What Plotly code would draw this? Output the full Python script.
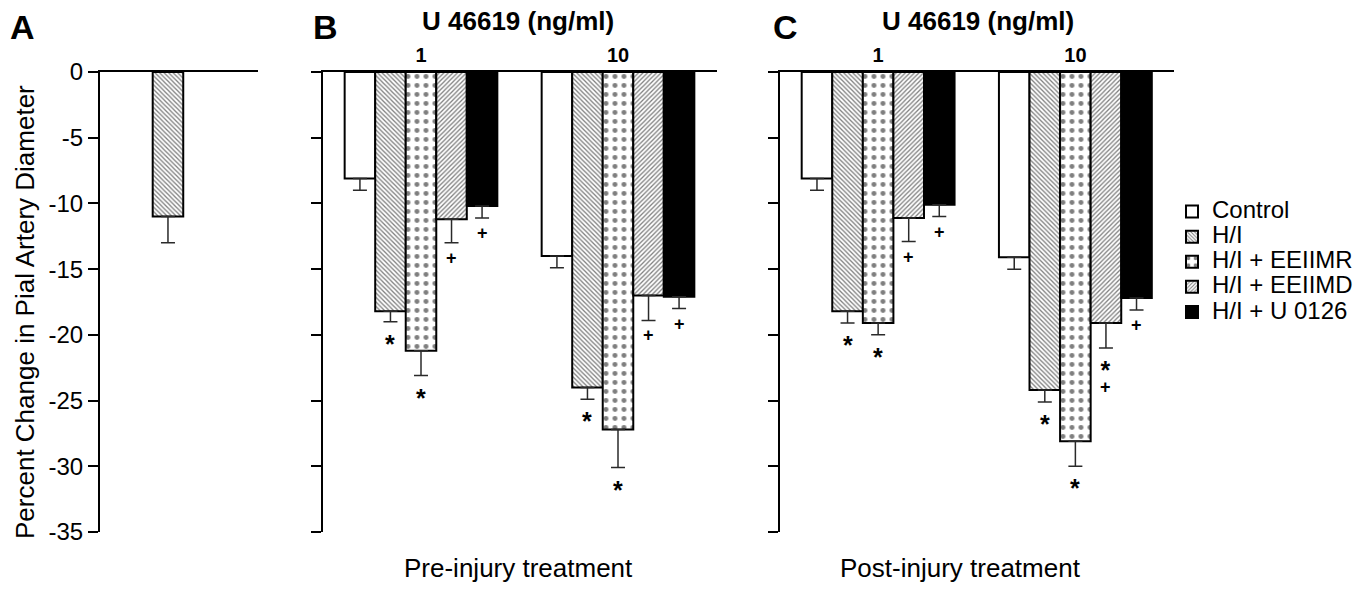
import plotly.graph_objects as go

# ---------------- data ----------------
doses = ["1", "10"]
series_names = ["Control", "H/I", "H/I + EEIIMR", "H/I + EEIIMD", "H/I + U 0126"]
y_ticks = [0, -5, -10, -15, -20, -25, -30, -35]

# Panel A (H/I alone)
a_hi_value = [-11.0]
a_hi_err = [2.0]

# Panel B: pre-injury treatment (means, SEM)
pre_control = [-8.1, -14.0]
pre_hi = [-18.2, -24.0]
pre_eeiimr = [-21.2, -27.2]
pre_eeiimd = [-11.2, -17.0]
pre_u0126 = [-10.2, -17.1]
pre_control_err = [0.9, 0.9]
pre_hi_err = [0.8, 0.9]
pre_eeiimr_err = [1.9, 2.9]
pre_eeiimd_err = [1.8, 1.9]
pre_u0126_err = [0.9, 0.9]
pre_control_marks = ["", ""]
pre_hi_marks = ["*", "*"]
pre_eeiimr_marks = ["*", "*"]
pre_eeiimd_marks = ["+", "+"]
pre_u0126_marks = ["+", "+"]

# Panel C: post-injury treatment (means, SEM)
post_control = [-8.1, -14.1]
post_hi = [-18.2, -24.2]
post_eeiimr = [-19.1, -28.1]
post_eeiimd = [-11.1, -19.1]
post_u0126 = [-10.1, -17.2]
post_control_err = [0.9, 0.9]
post_hi_err = [0.9, 0.9]
post_eeiimr_err = [0.9, 1.9]
post_eeiimd_err = [1.8, 1.9]
post_u0126_err = [0.9, 0.9]
post_control_marks = ["", ""]
post_hi_marks = ["*", "*"]
post_eeiimr_marks = ["*", "*"]
post_eeiimd_marks = ["+", "*+"]
post_u0126_marks = ["+", "+"]

# ---------------- styling ----------------
W, H = 1371, 589
FONT = "Liberation Sans, Arial, sans-serif"
BAR_W = 0.155           # bar width in x-units (group spacing = 1)
GROUP_SPAN = 5


def px_x(p):
    return p / W


def px_y(p):
    return 1 - p / H


styles = [
    dict(color="white", pattern=None),
    dict(color="white", pattern=dict(shape="\\", size=3.2, solidity=0.4, fgcolor="black", bgcolor="white")),
    dict(color="white", pattern=dict(shape=".", size=9, solidity=0.24, fgcolor="black", bgcolor="white")),
    dict(color="white", pattern=dict(shape="/", size=3.2, solidity=0.4, fgcolor="black", bgcolor="white")),
    dict(color="black", pattern=None),
]

MARK_STYLE = {"*": "font-size:25px;font-weight:bold", "+": "font-size:18px;font-weight:bold"}
MARK_SHIFT = {"*": -7, "+": -4}

fig = go.Figure()
annotations = []


def offset(i):
    return (i - (GROUP_SPAN - 1) / 2) * BAR_W


def add_panel(xa, ya, values, errs, marks, show_legend):
    for i, (vals, er, mk) in enumerate(zip(values, errs, marks)):
        xs = [g + offset(i) for g in range(len(doses))]
        st = styles[i]
        marker = dict(color=st["color"], line=dict(color="black", width=2))
        if st["pattern"] is not None:
            marker["pattern"] = st["pattern"]
        fig.add_trace(go.Bar(
            x=xs, y=vals, width=BAR_W,
            name=f'<span style="font-size:24px">{series_names[i]}</span>',
            marker=marker, xaxis=xa, yaxis=ya, showlegend=show_legend,
            error_y=dict(type="data", symmetric=False, array=[0] * len(vals),
                         arrayminus=er, color="#2a2a2a", thickness=1.5, width=7),
        ))
        for x, v, e, m in zip(xs, vals, er, mk):
            if not m:
                continue
            text = "<br>".join(f'<span style="{MARK_STYLE[ch]}">{ch}</span>' for ch in m)
            annotations.append(dict(
                x=x, y=v - e, xref=xa, yref=ya, text=text, showarrow=False,
                yanchor="top", yshift=MARK_SHIFT[m[0]], borderpad=0,
                font=dict(family=FONT, size=10.8, color="black"),
            ))


# Panel A
fig.add_trace(go.Bar(
    x=[0], y=a_hi_value, width=BAR_W, name=series_names[1], showlegend=False,
    marker=dict(color="white", line=dict(color="black", width=2), pattern=styles[1]["pattern"]),
    xaxis="x", yaxis="y",
    error_y=dict(type="data", symmetric=False, array=[0], arrayminus=a_hi_err,
                 color="#2a2a2a", thickness=1.5, width=7),
))

add_panel("x2", "y2",
          [pre_control, pre_hi, pre_eeiimr, pre_eeiimd, pre_u0126],
          [pre_control_err, pre_hi_err, pre_eeiimr_err, pre_eeiimd_err, pre_u0126_err],
          [pre_control_marks, pre_hi_marks, pre_eeiimr_marks, pre_eeiimd_marks, pre_u0126_marks],
          True)
add_panel("x3", "y3",
          [post_control, post_hi, post_eeiimr, post_eeiimd, post_u0126],
          [post_control_err, post_hi_err, post_eeiimr_err, post_eeiimd_err, post_u0126_err],
          [post_control_marks, post_hi_marks, post_eeiimr_marks, post_eeiimd_marks, post_u0126_marks],
          False)

ydom = [px_y(532), px_y(72)]
common_y = dict(range=[-35, 0], tickvals=y_ticks, ticktext=[str(v) for v in y_ticks],
                ticks="outside", ticklen=10, tickwidth=2,
                tickcolor="black", showline=True, linewidth=2, linecolor="black",
                showgrid=False, zeroline=False, domain=ydom, fixedrange=True, automargin=False,
                tickfont=dict(family=FONT, size=24, color="black"))
common_x = dict(side="top", showline=True, linewidth=2, linecolor="black", showgrid=False,
                zeroline=False, ticks="", fixedrange=True, automargin=False,
                tickfont=dict(family=FONT, size=20, color="black"))

fig.update_layout(
    xaxis=dict(common_x, domain=[px_x(100), px_x(258)], range=[-0.345, 0.457],
               showticklabels=False, anchor="y"),
    yaxis=dict(common_y, anchor="x"),
    xaxis2=dict(common_x, domain=[px_x(322.5), px_x(716.5)], range=[-0.5, 1.5],
                tickvals=list(range(len(doses))), ticktext=[f"<b>{d}</b>" for d in doses], anchor="y2"),
    yaxis2=dict(common_y, anchor="x2", showticklabels=False),
    xaxis3=dict(common_x, domain=[px_x(779.5), px_x(1174)], range=[-0.5, 1.5],
                tickvals=list(range(len(doses))), ticktext=[f"<b>{d}</b>" for d in doses], anchor="y3"),
    yaxis3=dict(common_y, anchor="x3", showticklabels=False),
)


# text labels
def text_ann(x, y, text, size, bold=False, angle=0):
    annotations.append(dict(
        x=px_x(x), y=px_y(y), xref="paper", yref="paper", showarrow=False,
        text=f"<b>{text}</b>" if bold else text, xanchor="center", yanchor="middle",
        textangle=angle, font=dict(family=FONT, size=size, color="black"),
    ))


text_ann(22, 27, "A", 34, bold=True)
text_ann(325, 27, "B", 34, bold=True)
text_ann(785, 27, "C", 34, bold=True)
text_ann(518, 21, "U 46619 (ng/ml)", 26, bold=True)
text_ann(978, 21, "U 46619 (ng/ml)", 26, bold=True)
text_ann(518, 568, "Pre-injury treatment", 26)
text_ann(960, 568, "Post-injury treatment", 26)
text_ann(25, 312, "Percent Change in Pial Artery Diameter", 26, angle=-90)

fig.update_layout(
    width=W, height=H, margin=dict(l=0, r=0, t=0, b=0, autoexpand=False),
    paper_bgcolor="white", plot_bgcolor="white",
    barmode="overlay", annotations=annotations,
    font=dict(family=FONT, color="black"),
    legend=dict(x=px_x(1172), y=px_y(194), xanchor="left", yanchor="top",
                font=dict(family=FONT, size=17, color="black"),
                bgcolor="rgba(0,0,0,0)", tracegroupgap=0),
)

fig.write_html("out.html", config={"displayModeBar": False},
               post_script="document.body.style.margin='0';")
